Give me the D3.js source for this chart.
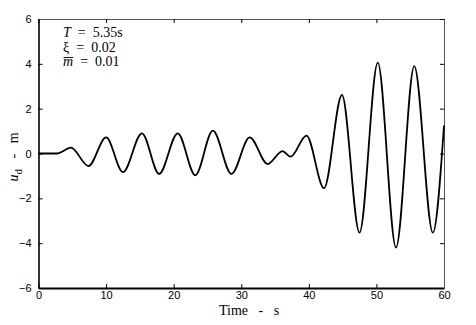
<!DOCTYPE html>
<html>
<head>
<meta charset="utf-8">
<script src="https://cdn.jsdelivr.net/npm/d3@7"></script>
<style>
  body { margin: 0; background: #fff; }
  svg { display: block; }
  .tick text { font-family: "Liberation Sans", Arial, sans-serif; font-size: 11px; fill: #000; }
  .serif { font-family: "Liberation Serif", "Times New Roman", serif; font-size: 14px; fill: #000; }
</style>
</head>
<body>
<svg id="chart" width="476" height="325"></svg>
<script>
// response peaks / troughs
const timeS = [0, 2.8, 4.8, 7.4, 10.0, 12.5, 15.3, 17.85, 20.6, 23.2, 25.8, 28.55, 31.25, 33.9, 36.1, 37.3, 39.65, 42.25, 44.9, 47.5, 50.2, 52.9, 55.6, 58.35, 60];
const dispM = [0, 0, 0.26, -0.56, 0.72, -0.83, 0.9, -0.91, 0.9, -0.97, 1.02, -0.91, 0.72, -0.47, 0.11, -0.14, 0.8, -1.55, 2.61, -3.53, 4.05, -4.2, 3.9, -3.53, 1.25];
const xTicks = [0, 10, 20, 30, 40, 50, 60];
const yTicks = [-6, -4, -2, 0, 2, 4, 6];

const margin = { top: 19, right: 32, left: 38.5, bottom: 37 };
const width = 476 - margin.left - margin.right;
const height = 325 - margin.top - margin.bottom;

const svg = d3.select('#chart');
const g = svg.append('g')
    .attr('transform', `translate(${margin.left}, ${margin.top})`);

const xScale = d3.scaleLinear().domain([0, 60]).range([0, width]);
const yScale = d3.scaleLinear().domain([-6, 6]).range([height, 0]);

// bottom / left axes with inward ticks
g.append('g')
    .attr('transform', `translate(0,${height})`)
    .call(d3.axisBottom(xScale).tickValues(xTicks).tickSizeInner(-4).tickSizeOuter(0).tickPadding(3))
    .call(a => a.select('.domain').attr('stroke-width', 2));

g.append('g')
    .call(d3.axisLeft(yScale).tickValues(yTicks).tickSizeInner(-4).tickSizeOuter(0).tickPadding(7))
    .call(a => a.select('.domain').attr('stroke-width', 1.6));

// top / right frame
g.append('g')
    .call(d3.axisTop(xScale).tickValues(xTicks).tickSizeInner(-4).tickSizeOuter(0).tickFormat(''))
    .call(a => a.select('.domain').attr('stroke', '#555'));

g.append('g')
    .attr('transform', `translate(${width},0)`)
    .call(d3.axisRight(yScale).tickValues(yTicks).tickSizeInner(-4).tickSizeOuter(0).tickFormat(''))
    .call(a => a.select('.domain').attr('stroke', '#555'));

const line = d3.line()
    .x((d, i) => xScale(timeS[i]))
    .y(d => yScale(d))
    .curve(d3.curveMonotoneX);

g.append('path')
    .datum(dispM)
    .attr('fill', 'none')
    .attr('stroke', '#000')
    .attr('stroke-width', 1.8)
    .attr('d', line);

// axis labels
svg.append('text')
    .attr('class', 'serif')
    .attr('x', 219)
    .attr('y', 315)
    .style('white-space', 'pre')
    .text('Time   -   s');

const yl = svg.append('text')
    .attr('class', 'serif')
    .attr('transform', 'translate(18,157) rotate(-90)')
    .attr('text-anchor', 'middle')
    .style('white-space', 'pre');
yl.append('tspan').style('font-style', 'italic').text('u');
yl.append('tspan').attr('dy', 4).style('font-size', '11px').text('d');
yl.append('tspan').attr('dy', -4).text('   -   m');

// parameters
const note = svg.append('g').attr('class', 'serif');
const t1 = note.append('text').attr('x', 63).attr('y', 37).style('white-space', 'pre');
t1.append('tspan').style('font-style', 'italic').text('T');
t1.append('tspan').text('  =  5.35s');
note.append('text').attr('x', 63).attr('y', 52).style('white-space', 'pre').text('ξ  =  0.02');
const t3 = note.append('text').attr('x', 63).attr('y', 66).style('white-space', 'pre');
const mBar = t3.append('tspan').style('font-style', 'italic').text('m');
t3.append('tspan').text('  =  0.01');
const mW = mBar.node().getComputedTextLength();
note.append('line')
    .attr('x1', 63.5).attr('x2', 63 + mW)
    .attr('y1', 57.5).attr('y2', 57.5)
    .attr('stroke', '#000').attr('stroke-width', 0.9);
</script>
</body>
</html>
